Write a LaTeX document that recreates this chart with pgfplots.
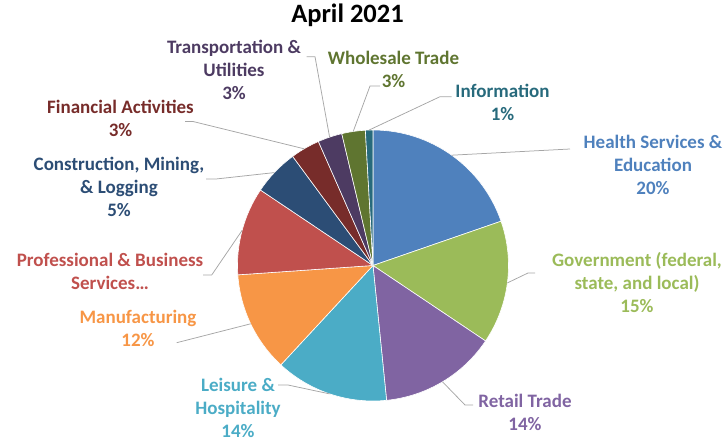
\documentclass[border=0pt]{standalone}
\usepackage{pgfplots}
\usepackage{pgfplotstable}
\pgfplotsset{compat=1.18}
\usepackage{fontspec}
\setmainfont{Carlito}

\definecolor{cHealth}{HTML}{4F81BD}
\definecolor{cGov}{HTML}{9BBB59}
\definecolor{cRetail}{HTML}{8064A2}
\definecolor{cLeisure}{HTML}{4BACC6}
\definecolor{cManuf}{HTML}{F79646}
\definecolor{cProf}{HTML}{C0504D}
\definecolor{cConstr}{HTML}{2C4D75}
\definecolor{cFin}{HTML}{772C2A}
\definecolor{cTrans}{HTML}{4D3B62}
\definecolor{cWhole}{HTML}{5F7530}
\definecolor{cInfo}{HTML}{276A7C}
\definecolor{leader}{HTML}{A6A6A6}

% share of employment, April 2021 (clockwise from 12 o'clock)
\pgfplotstableread[col sep=comma]{
sector,value,col
Health,19.7,cHealth
Government,14.7,cGov
Retail,14.0,cRetail
Leisure,13.5,cLeisure
Manufacturing,12.0,cManuf
Professional,10.5,cProf
Construction,5.5,cConstr
Financial,3.5,cFin
Transportation,2.9,cTrans
Wholesale,2.8,cWhole
Information,0.9,cInfo
}\piedata

% build the wedges from the table
\pgfplotstablegetrowsof{\piedata}
\pgfmathtruncatemacro\lastrow{\pgfplotsretval-1}
\gdef\wedges{}
\gdef\cumangle{90}
\foreach \i in {0,...,\lastrow}{%
  \pgfplotstablegetelem{\i}{value}\of{\piedata}\let\v\pgfplotsretval
  \pgfplotstablegetelem{\i}{col}\of{\piedata}\let\c\pgfplotsretval
  \pgfmathsetmacro\a{\cumangle}%
  \pgfmathsetmacro\b{\cumangle-3.6*\v}%
  \xdef\cumangle{\b}%
  \xdef\wedges{\unexpanded\expandafter{\wedges}%
    \noexpand\fill[\c,draw=white,line width=0.6bp]
      (axis cs:373,175.5) -- ++(\a:135.5bp)
      arc[start angle=\a,end angle=\b,radius=135.5bp] -- cycle;}%
}

\tikzset{
  lab/.style={font=\bfseries\fontsize{19bp}{23bp}\selectfont, align=center, inner sep=0pt},
  ld/.style={leader, line width=0.75bp},
}

\begin{document}
\begin{tikzpicture}
\path[use as bounding box] (0,0) rectangle (725bp,441bp);
\begin{axis}[
  hide axis,
  x=1bp, y=1bp,
  xmin=0, xmax=725, ymin=0, ymax=441,
  scale only axis,
  clip=false,
  at={(0,0)}, anchor=south west,
  ]
  \wedges

  % leader lines
  \addplot[ld] coordinates {(451.7,285.8) (570,292)};
  \addplot[ld] coordinates {(507.4,158.1) (528,168) (535,168)};
  \addplot[ld] coordinates {(442.5,59.2) (465,36) (473,36)};
  \addplot[ld] coordinates {(329.7,47.1) (288,56) (278,56)};
  \addplot[ld] coordinates {(250.7,117.2) (176.7,98.3)};
  \addplot[ld] coordinates {(242.1,210.6) (211.7,166) (203,166)};
  \addplot[ld] coordinates {(274.4,268.4) (216,262) (206,262)};
  \addplot[ld] coordinates {(304.2,292.2) (193,319.5) (185,319.5)};
  \addplot[ld] coordinates {(329.6,303.9) (315,384.3) (306.7,384.3)};
  \addplot[ld] coordinates {(353.2,309.5) (370,355) (380,355)};
  \addplot[ld] coordinates {(369,310.9) (440,344.3) (451.7,344.3)};

  % labels
  \node[font=\bfseries\fontsize{26.5bp}{30bp}\selectfont, inner sep=0pt] at (axis cs:347.5,426) {April 2021};
  \node[lab, text=cHealth] at (axis cs:653,276) {Health Services \&\\Education\\20\%};
  \node[lab, text=cGov] at (axis cs:637,158) {Government (federal,\\state, and local)\\15\%};
  \node[lab, text=cRetail] at (axis cs:525,28.5) {Retail Trade\\14\%};
  \node[lab, text=cLeisure] at (axis cs:238,33) {Leisure \&\\Hospitality\\14\%};
  \node[lab, text=cManuf] at (axis cs:138,113) {Manufacturing\\12\%};
  \node[lab, text=cProf] at (axis cs:110,170) {Professional \& Business\\Services…};
  \node[lab, text=cConstr] at (axis cs:119,254) {Construction, Mining,\\\& Logging\\5\%};
  \node[lab, text=cFin] at (axis cs:120.5,323) {Financial Activities\\3\%};
  \node[lab, text=cTrans] at (axis cs:234,371) {Transportation \&\\Utilities\\3\%};
  \node[lab, text=cWhole] at (axis cs:393.5,371.5) {Wholesale Trade\\3\%};
  \node[lab, text=cInfo] at (axis cs:502.5,338.5) {Information\\1\%};
\end{axis}
\end{tikzpicture}
\end{document}
